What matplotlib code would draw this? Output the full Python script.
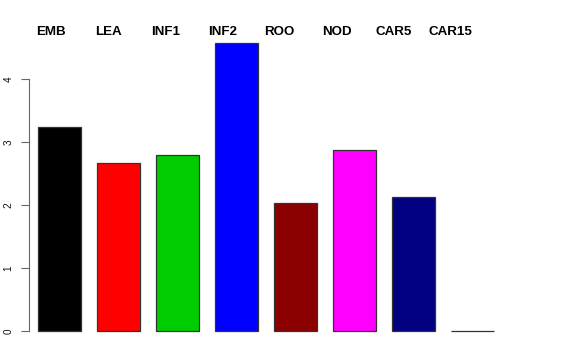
import matplotlib
matplotlib.use("Agg")
import matplotlib.pyplot as plt
import numpy as np

# tissue labels and mean values
tissues = ["EMB", "LEA", "INF1", "INF2", "ROO", "NOD", "CAR5", "CAR15"]
values = [3.24, 2.67, 2.79, 4.57, 2.03, 2.87, 2.13, 0.0]
colours = ["#000000", "#FF0000", "#00CD00", "#0000FF",
           "#8B0000", "#FF00FF", "#000080", "#FFFFFF"]
yticks = [0, 1, 2, 3, 4]

plt.rcParams["font.family"] = ["Liberation Sans", "DejaVu Sans"]

W, H = 576, 360
fig = plt.figure(figsize=(W / 100, H / 100), dpi=100)
# axes box in pixels: left 29, right 520, top 32, bottom 342.5
ax = fig.add_axes([29 / W, (H - 342.5) / H, (520 - 29) / W, (342.5 - 32) / H])

x = np.arange(len(tissues))
ax.bar(x, values, width=0.73, color=colours, edgecolor="#333333", linewidth=0.9)

ax.set_xlim(-0.517, 7.805)
ax.set_ylim(-0.183, 4.75)

for s in ["top", "right", "bottom"]:
    ax.spines[s].set_visible(False)
ax.spines["left"].set_bounds(0, 4)
ax.spines["left"].set_color("#666666")
ax.set_xticks([])
ax.set_yticks(yticks)
ax.set_yticklabels([str(v) for v in yticks], rotation=90, va="center", fontsize=7.2, color="#111111")
ax.tick_params(axis="y", length=5.8, width=0.8, color="#666666", pad=5.5)

# tissue names across the top, evenly spaced like mtext
label_pos = -0.144 + 0.968 * x
for px, name in zip(label_pos, tissues):
    ax.text(px, 1.0 - 0.5 / (342.5 - 32), name, transform=ax.get_xaxis_transform(),
            ha="center", va="center", fontsize=9.6, fontweight="bold", clip_on=False)

fig.savefig("out.png", dpi=100)
